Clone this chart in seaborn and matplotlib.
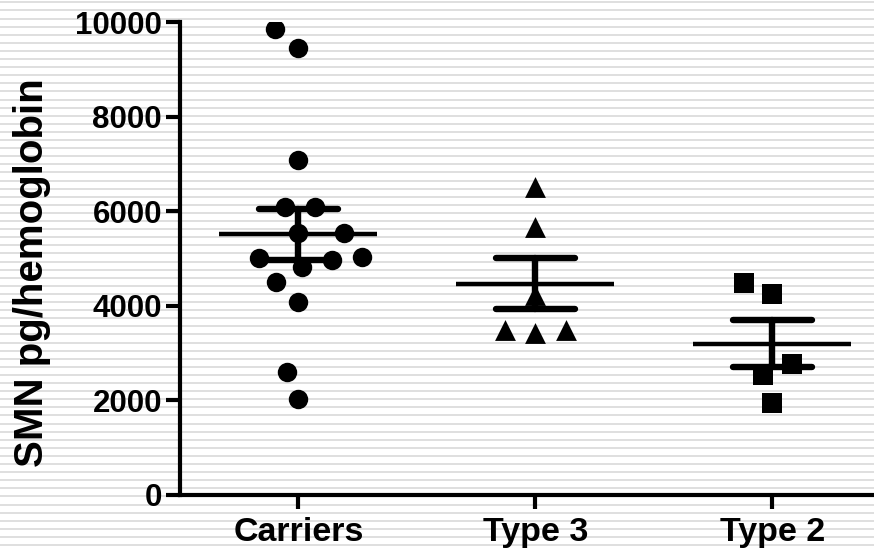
import numpy as np
import pandas as pd
import matplotlib
matplotlib.use("Agg")
import matplotlib.pyplot as plt
import seaborn as sns

categories = ["Carriers", "Type 3", "Type 2"]
carriers = [9850, 9450, 7080, 6090, 6090, 5540, 5540, 5010, 4970, 5030, 4820, 4500, 4080, 2600, 2030]
type3 = [6510, 5670, 4230, 3490, 3430, 3490]
type2 = [4250, 4480, 2770, 2540, 1950]
yticks = [0, 2000, 4000, 6000, 8000, 10000]
ylabel = "SMN pg/hemoglobin"

df = pd.DataFrame({
    "group": ["Carriers"] * len(carriers) + ["Type 3"] * len(type3) + ["Type 2"] * len(type2),
    "value": carriers + type3 + type2,
})

sns.set_style("white")
plt.rcParams["font.family"] = ["Liberation Sans", "DejaVu Sans"]
plt.rcParams["font.weight"] = "bold"

fig = plt.figure(figsize=(8.74, 5.5), dpi=100)

# striped background
bg = fig.add_axes([0, 0, 1, 1], zorder=-10)
bg.set_xlim(0, 1)
bg.set_ylim(0, 550)
bg.hlines(np.arange(5, 550, 8.1), 0, 1, color="#dcdcdc", lw=1.3)
bg.axis("off")

ax = fig.add_axes([180 / 874, 55 / 550, 694 / 874, 473 / 550])
ax.patch.set_alpha(0)

ax.set_xlim(-0.5, 2.43)
ax.set_ylim(0, 10000)

markers = {"Carriers": "o", "Type 3": "^", "Type 2": "s"}
draw_size = {"Carriers": 14, "Type 3": 15, "Type 2": 14}
swarm_colls = []
for g in categories:
    sub = df[df["group"] == g]
    n_before = len(ax.collections)
    # swarm laid out with a wider spacing than the drawn marker
    sns.swarmplot(data=sub, x="group", y="value", order=categories, ax=ax,
                  color="black", marker=markers[g], size=21, linewidth=0,
                  zorder=3, warn_thresh=1)
    for coll in ax.collections[n_before:]:
        swarm_colls.append((coll, g))

sns.pointplot(data=df, x="group", y="value", order=categories, ax=ax,
              errorbar="se", capsize=0.333, linestyle="none", color="black",
              marker="_", markersize=114, markeredgewidth=3.2,
              err_kws={"linewidth": 4.6}, zorder=4)

ax.set_xlim(-0.5, 2.43)
ax.set_ylim(0, 10000)
ax.set_yticks(yticks)
ax.set_yticklabels([str(t) for t in yticks], fontsize=22.5, fontweight="bold")
ax.set_xticks(range(len(categories)))
ax.set_xticklabels(categories, fontsize=24.5, fontweight="bold")
ax.set_xlabel("")
ax.set_ylabel(ylabel, fontsize=29, fontweight="bold", color="black")
ax.yaxis.set_label_coords(-0.186, 0.47)

for s in ["top", "right"]:
    ax.spines[s].set_visible(False)
for s in ["left", "bottom"]:
    ax.spines[s].set_linewidth(3)
    ax.spines[s].set_color("black")
ax.tick_params(axis="both", length=10, width=3, color="black", direction="out",
               labelcolor="black", left=True, bottom=True)
ax.tick_params(axis="x", pad=6)
ax.tick_params(axis="y", pad=3)

# let seaborn compute the swarm layout, then freeze it and shrink markers
fig.canvas.draw()
for coll, g in swarm_colls:
    if "draw" in coll.__dict__:
        del coll.__dict__["draw"]
    coll.set_sizes([draw_size[g] ** 2])

fig.savefig("out.png", dpi=100)
